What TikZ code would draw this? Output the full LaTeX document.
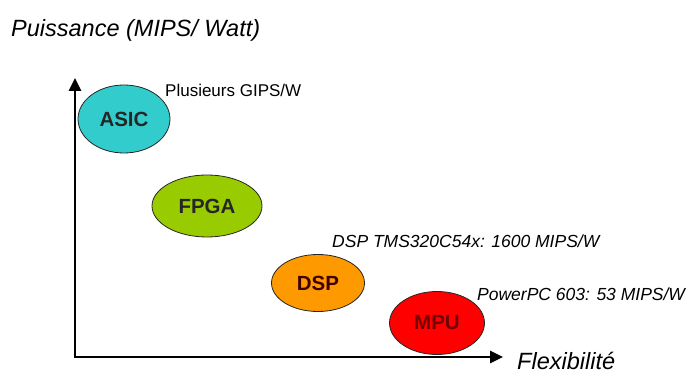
\documentclass[tikz,border=0pt]{standalone}
\usepackage{fontspec}
\setmainfont{Liberation Sans}
\usetikzlibrary{shapes.geometric,arrows.meta}
\definecolor{asiccyan}{HTML}{33CCCC}
\definecolor{fpgagreen}{HTML}{99CC00}
\definecolor{dsporange}{HTML}{FF9900}
\definecolor{mpured}{HTML}{FF0000}

\begin{document}
\begin{tikzpicture}[
    x=1pt, y=-1pt,
    chip/.style={ellipse, draw=black!85, line width=0.8pt, inner sep=0pt, font=\fontsize{20.5}{20.5}\selectfont\bfseries},
    axis/.style={line width=2.8pt, {Triangle[length=13pt,width=12pt]}-{Triangle[length=13pt,width=12pt]}},
    note/.style={anchor=west, inner sep=0pt, font=\fontsize{17.5}{17.5}\selectfont\itshape},
    label/.style={anchor=west, inner sep=0pt, font=\fontsize{23.5}{23.5}\selectfont\itshape}
]
\fill[white] (0,0) rectangle (686,374);
\useasboundingbox (0,0) rectangle (686,374);

% axes
\coordinate (ytop) at (75,78);
\coordinate (xend) at (503,357);
\draw[axis] (ytop) |- (xend);

\node[label] (power) at (11,30) {Puissance (MIPS/ Watt)};
\node[label] (flex) at (517,361) {Flexibilité};

% chips
\node[chip, fill=asiccyan, text=black!85, minimum width=92pt, minimum height=68pt] (asic) at (124,119) {ASIC};
\node[chip, fill=fpgagreen, text=black!85, minimum width=110pt, minimum height=62pt] (fpga) at (207,206) {FPGA};
\node[chip, fill=dsporange, text=black!75!red, minimum width=93pt, minimum height=57pt] (dsp) at (318,283) {DSP};
\node[chip, fill=mpured, text=red!45!black, minimum width=95pt, minimum height=63pt] (mpu) at (437,323) {MPU};

% figures
\node[note, font=\fontsize{17}{17}\selectfont] (asicnote) at (165,90) {Plusieurs GIPS/W};
\node[note] (dspnote) at (332,241) {DSP TMS320C54x: 1600 MIPS/W};
\node[note] (mpunote) at (477,294) {PowerPC 603: 53 MIPS/W};
\end{tikzpicture}
\end{document}
